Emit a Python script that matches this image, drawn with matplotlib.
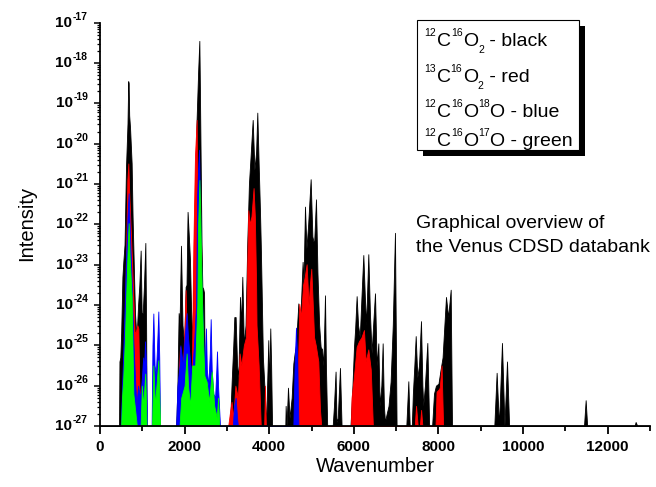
import numpy as np
import matplotlib
matplotlib.use("Agg")
import matplotlib.pyplot as plt
from matplotlib.ticker import FixedLocator, LogLocator, NullFormatter
from matplotlib.patches import Rectangle

plt.rcParams['font.family'] = ['Liberation Sans', 'DejaVu Sans']

# ---------------- data (envelopes) ----------------
# wavenumber (cm-1) and log10(intensity)
black_wn = [0, 450, 460, 480, 500, 530, 551, 580, 615, 650, 667, 677, 690, 710, 748, 770, 788, 810, 827,
            850, 870, 900, 930, 961, 985, 1010, 1040, 1072, 1090, 1103,
            1800, 1830, 1859, 1880, 1914, 1950, 1990, 2024, 2045, 2070, 2100, 2127, 2150, 2175, 2200,
            2240, 2280, 2320, 2348, 2360, 2380, 2400, 2419, 2440, 2460, 2482,
            3070, 3090, 3112, 3150, 3175, 3206, 3240, 3270, 3309, 3335, 3364, 3400, 3440, 3480, 3520,
            3560, 3609, 3650, 3690, 3718, 3750, 3782, 3800, 3821, 3850, 3900, 3930, 3950, 3978, 4000,
            4025, 4045, 4067,
            4380, 4388, 4410, 4443, 4480, 4530, 4570, 4600, 4632, 4688, 4730, 4789, 4810, 4845, 4880,
            4920, 4979, 5020, 5060, 5105, 5140, 5180, 5215, 5250, 5280, 5318, 5340, 5370,
            5500, 5530, 5568, 5590, 5620, 5672, 5710,
            5920, 5960, 6003, 6030, 6066, 6100, 6140, 6180, 6224, 6260, 6290, 6342, 6380, 6420, 6450,
            6500, 6540, 6579, 6610, 6650, 6681, 6710, 6736, 6775, 6820, 6869, 6920, 6972, 7010,
            7240, 7288, 7320, 7370, 7395, 7430, 7462, 7500, 7540, 7587, 7620, 7640, 7680, 7737, 7780,
            7850, 7894, 7940, 8000, 8050, 8097, 8140, 8178, 8230, 8289, 8320,
            9320, 9375, 9430, 9501, 9560, 9620, 9670,
            11440, 11479, 11515,
            12636, 12660, 12700, 13000]
black_log = [-27, -27, -25.4, -25.3, -24.7, -23.3, -22.93, -22.5, -20.57, -19.5, -18.45, -18.5, -19.3, -19.6, -20.49, -21.8, -22.56, -23.5, -24.2,
             -24.6, -24.7, -24.0, -23.5, -22.65, -24.2, -24.2, -23.5, -22.46, -24.5, -27,
             -27, -26.0, -24.2, -24.5, -22.53, -24.5, -25.0, -23.55, -23.5, -21.69, -22.3, -22.89, -24.0, -24.9, -24.0,
             -21.5, -19.5, -18.2, -17.45, -18.5, -20.5, -22.5, -23.55, -23.6, -23.7, -27,
             -27, -26.5, -25.9, -25.0, -24.3, -24.3, -25.5, -25.8, -23.8, -24.5, -23.3, -25.0, -24.5, -22.5, -21.0,
             -20.3, -19.41, -20.65, -20.2, -19.23, -20.5, -21.7, -22.5, -23.63, -25.3, -26.3, -27, -26.0, -24.87, -26.0,
             -24.58, -25.5, -27,
             -27, -26.5, -27, -26.05, -26.8, -26.3, -25.45, -25.2, -25.0, -23.96, -24.5, -22.93, -23.5, -21.56, -22.6,
             -22.0, -20.88, -22.3, -22.5, -21.38, -23.2, -24.5, -25.04, -25.1, -25.5, -23.76, -25.5, -27,
             -27, -26.5, -25.65, -26.9, -26.8, -25.56, -27,
             -27, -26.2, -25.04, -24.6, -23.78, -24.5, -24.8, -23.8, -22.76, -23.8, -24.5, -22.74, -24.2, -25.2, -24.6,
             -23.71, -25.5, -24.95, -26.5, -26.0, -24.95, -26.5, -26.9, -26.7, -26.5, -25.9, -24.5, -22.21, -27,
             -27, -25.89, -27, -27, -26.2, -25.5, -24.77, -25.8, -25.5, -24.4, -26.0, -26.5, -26.0, -24.94, -27,
             -27, -26.2, -26.0, -25.95, -25.6, -25.3, -24.5, -23.8, -24.3, -23.62, -27,
             -27, -25.68, -27, -24.94, -27, -25.4, -27,
             -27, -26.36, -27,
             -27, -26.9, -27, -27]

red_wn = [500, 540, 591, 646, 670, 690, 725, 760, 788, 820, 850, 882, 906, 930, 960, 1000, 1020, 1050, 1080,
          1820, 1850, 1870, 1891, 1920, 1960, 2000, 2024, 2050, 2080, 2110, 2160, 2206, 2245, 2285, 2300, 2320, 2350, 2370,
          3030, 3080, 3110, 3150, 3200, 3260, 3300, 3340, 3400, 3450, 3480, 3506, 3540, 3580, 3630, 3660, 3690, 3700,
          3750, 3780, 3800,
          3880, 3900, 3920,
          4650, 4680, 4711, 4750, 4800, 4840, 4884, 4930, 4960, 4994, 5030, 5060, 5100, 5160, 5200, 5230,
          5930, 5945, 6000, 6066, 6120, 6180, 6239, 6280, 6342, 6400, 6450,
          7440, 7470, 7510, 7560, 7590, 7620,
          7930, 7955, 8000, 8030, 8073, 8110]
red_log = [-27, -26.0, -24.2, -20.9, -20.49, -21.2, -22.1, -23.0, -23.8, -24.7, -24.65, -24.5, -24.58, -26.0, -26.5, -26.0, -25.9, -26.5, -27,
           -27, -26.5, -25.5, -25.04, -26.0, -25.5, -24.5, -23.63, -24.8, -25.0, -26.0, -26.5, -22.56, -20.3, -19.41, -21.5, -24.5, -26.5, -27,
           -27, -26.6, -26.4, -26.8, -26.0, -26.3, -25.2, -25.5, -25.0, -24.8, -23.0, -21.65, -22.0, -21.8, -21.1, -21.8, -23.5, -24.5,
           -25.5, -26.4, -27,
           -27, -26.0, -27,
           -27, -25.5, -23.97, -24.3, -23.5, -23.3, -22.99, -24.0, -23.5, -23.1, -24.0, -24.8, -25.0, -25.4, -26.6, -27,
           -27, -26.3, -25.8, -25.04, -24.9, -24.8, -24.62, -25.4, -25.1, -25.6, -27,
           -27, -26.5, -27, -27, -26.6, -27,
           -27, -26.15, -26.1, -26.05, -25.5, -27]

blue_wn = [490, 536, 570, 610, 650, 677, 700, 748, 788, 827, 860, 900, 950, 990, 1020, 1040, 1064, 1090, 1110,
           1220, 1240, 1261, 1290, 1320, 1350, 1379, 1400, 1420,
           1800, 1830, 1880, 1900, 1960, 2000, 2048, 2080, 2120, 2170, 2220, 2270, 2295, 2320, 2340, 2360, 2400,
           2440, 2470, 2490, 2505, 2525, 2560, 2595, 2616, 2640, 2680, 2720, 2750, 2765, 2790, 2836,
           3140, 3170, 3206, 3240, 3260,
           4570, 4600, 4632, 4660, 4690]
blue_log = [-27, -25.6, -24.5, -23.0, -21.8, -21.23, -22.0, -23.4, -24.9, -25.8, -26.5, -26.0, -26.3, -25.8, -25.3, -25.6, -24.9, -25.5, -27,
            -27, -25.0, -24.21, -25.5, -25.7, -25.0, -24.16, -25.3, -27,
            -27, -26.0, -25.5, -25.0, -25.5, -24.8, -24.2, -24.8, -25.3, -25.8, -25.0, -24.0, -21.3, -20.6, -20.15, -21.3, -23.5,
            -24.8, -25.8, -25.0, -24.58, -25.6, -26.0, -25.2, -24.35, -25.6, -26.2, -26.3, -25.6, -25.15, -26.0, -27,
            -27, -26.5, -26.3, -26.8, -27,
            -27, -25.5, -24.56, -25.3, -27]

green_wn = [500, 520, 550, 590, 630, 660, 677, 700, 748, 788, 830, 870,
            960, 990, 1020, 1070, 1100,
            1230, 1261, 1300, 1379, 1420,
            1880, 1920, 2000, 2048, 2080, 2130, 2180, 2250, 2300, 2320, 2350, 2370, 2403, 2440, 2467, 2520,
            2580, 2640, 2700, 2760, 2790, 2820]
green_log = [-27, -26.3, -25.8, -24.8, -23.4, -22.4, -21.97, -22.8, -23.8, -26.2, -26.6, -27,
             -27, -26.0, -26.5, -25.7, -27,
             -27, -25.5, -26.5, -25.37, -27,
             -27, -26.3, -26.0, -25.2, -26.0, -26.5, -25.5, -25.5, -24.0, -22.0, -20.9, -21.8, -23.55, -25.0, -25.75, -25.9,
             -26.4, -25.65, -26.5, -26.8, -26.3, -27]

series = [(black_wn, black_log, '#000000'),
          (red_wn, red_log, '#ff0000'),
          (blue_wn, blue_log, '#0000ff'),
          (green_wn, green_log, '#00ff00')]

# legend lines as (text, kind) pieces: n = normal, sup = superscript, sub = subscript
legend_lines = [[('12', 'sup'), ('C', 'n'), ('16', 'sup'), ('O', 'n'), ('2', 'sub'), (' - black', 'n')],
                [('13', 'sup'), ('C', 'n'), ('16', 'sup'), ('O', 'n'), ('2', 'sub'), (' - red', 'n')],
                [('12', 'sup'), ('C', 'n'), ('16', 'sup'), ('O', 'n'), ('18', 'sup'), ('O - blue', 'n')],
                [('12', 'sup'), ('C', 'n'), ('16', 'sup'), ('O', 'n'), ('17', 'sup'), ('O - green', 'n')]]
note_lines = ['Graphical overview of', 'the Venus CDSD databank']

x_major = [0, 2000, 4000, 6000, 8000, 10000, 12000]
y_exponents = [-17, -18, -19, -20, -21, -22, -23, -24, -25, -26, -27]

# ---------------- figure ----------------
W, H = 656, 487
fig = plt.figure(figsize=(W / 100, H / 100), dpi=100)
ax = fig.add_axes([100 / W, 1 - 426 / H, 550 / W, (426 - 22.7) / H])

base = 1e-27
for wn, lg, col in series:
    ax.fill_between(wn, 10.0 ** np.array(lg), base, color=col, lw=0.6, edgecolor=col)

ax.set_yscale('log')
ax.set_xlim(0, 13000)
ax.set_ylim(1e-27, 1e-17)

for s in ['top', 'right']:
    ax.spines[s].set_visible(False)
ax.spines['bottom'].set_linewidth(1.3)
ax.spines['left'].set_linewidth(1.3)

ax.xaxis.set_major_locator(FixedLocator(x_major))
ax.xaxis.set_minor_locator(FixedLocator(np.arange(1000, 13001, 2000)))
ax.yaxis.set_major_locator(FixedLocator([10.0 ** e for e in y_exponents]))
ax.yaxis.set_minor_locator(LogLocator(base=10, subs=np.arange(2, 10), numticks=200))
ax.yaxis.set_minor_formatter(NullFormatter())
ax.yaxis.set_major_formatter(NullFormatter())

ax.tick_params(axis='x', which='major', direction='out', length=6, width=1.3, pad=4,
               labelsize=11)
ax.tick_params(axis='x', which='minor', direction='out', length=3.5, width=1.3)
ax.tick_params(axis='y', which='major', direction='out', length=4, width=1.1)
ax.tick_params(axis='y', which='minor', direction='out', length=2.5, width=0.9)
for lab in ax.get_xticklabels():
    lab.set_fontweight('bold')

renderer = fig.canvas.get_renderer()

# y tick labels: bold "10" with a small raised exponent
for e in y_exponents:
    ypx = ax.transData.transform((0, 10.0 ** e))[1]  # display px from bottom
    sup = fig.text(88 / W, (ypx + 3) / H, '%d' % e, ha='right', va='baseline',
                   fontsize=7.5, fontweight='bold')
    wsup = sup.get_window_extent(renderer).width
    fig.text((88 - wsup - 0.5) / W, ypx / H, '10', ha='right', va='center',
             fontsize=11, fontweight='bold')

fig.text(27 / W, 1 - 223 / H, 'Intensity', rotation=90, ha='center', va='center', fontsize=14.5)
fig.text(375 / W, 1 - 467 / H, 'Wavenumber', ha='center', va='center', fontsize=14.5)

# legend box with shadow
fig.patches.append(Rectangle((423 / W, 1 - 156 / H), 162 / W, 130 / H, transform=fig.transFigure,
                             facecolor='black', edgecolor='none', zorder=5))
fig.patches.append(Rectangle((417 / W, 1 - 150 / H), 162 / W, 130 / H, transform=fig.transFigure,
                             facecolor='white', edgecolor='black', lw=0.8, zorder=6))

main_size, small_size = 14, 7.5
offsets = {'n': 0.0, 'sup': 10.0, 'sub': -7.5}
for pieces, yb in zip(legend_lines, [45.7, 81.7, 116.7, 145.7]):
    xpx = 424.5
    for txt, kind in pieces:
        size = main_size if kind == 'n' else small_size
        t = fig.text(xpx / W, 1 - (yb - offsets[kind]) / H, txt, ha='left', va='baseline',
                     fontsize=size, zorder=7)
        xpx += t.get_window_extent(renderer).width + (0.5 if kind != 'n' else 0)

for txt, yb in zip(note_lines, [227.7, 251.7]):
    fig.text(416.5 / W, 1 - yb / H, txt, ha='left', va='baseline', fontsize=14)

fig.savefig('out.png', dpi=100)
